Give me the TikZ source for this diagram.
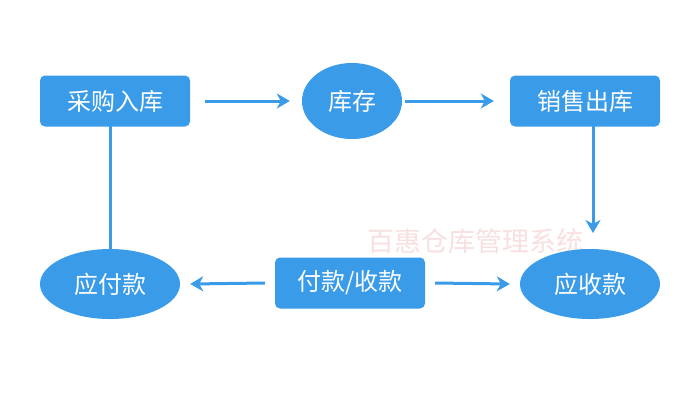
\documentclass[tikz,border=0pt]{standalone}
\usepackage{fontspec}
\setmainfont{Noto Sans CJK SC}
\usetikzlibrary{shapes.geometric,arrows.meta}
\definecolor{bl}{HTML}{3A9BE8}
\definecolor{wm}{HTML}{F8E0E0}
\begin{document}
\begin{tikzpicture}[x=1pt,y=-1pt,
  boxn/.style={fill=bl,rounded corners=5pt,minimum width=150pt,minimum height=51pt,text=white,font=\fontsize{24}{24}\selectfont,inner sep=0pt},
  elln/.style={ellipse,fill=bl,text=white,font=\fontsize{24}{24}\selectfont,inner sep=0pt},
  arr/.style={draw=bl,line width=3pt,-{Stealth[length=13pt,width=15pt,inset=4pt]}}]
\useasboundingbox (0,0) rectangle (700,400);
\fill[white] (0,0) rectangle (700,400);
\node[font=\fontsize{27}{27}\selectfont,text=wm] (wmk) at (475,241) {百惠仓库管理系统};
\node[boxn] (a) at (115,101) {采购入库};
\node[elln,minimum width=100pt,minimum height=76pt] (b) at (352,101) {库存};
\node[boxn] (c) at (585,101) {销售出库};
\node[elln,minimum width=140pt,minimum height=70pt] (d) at (110,284) {应付款};
\node[boxn] (e) at (350,283) {付款/收款};
\node[elln,minimum width=140pt,minimum height=70pt] (f) at (590,284) {应收款};
\draw[arr] ([xshift=15pt]a.east) -- ([xshift=-12pt]b.west);
\draw[arr] ([xshift=3pt]b.east) -- ([xshift=-16pt]c.west);
\draw[arr] ([yshift=15pt]a.south -| d.north) -- ([yshift=-17pt]d.north);
\draw[arr] ([yshift=15pt]c.south -| 593,0) -- (593,233);
\draw[arr] ([xshift=-10pt]e.west) -- ([xshift=10pt]d.east);
\draw[arr] ([xshift=10pt]e.east) -- ([xshift=-10pt]f.west);
\end{tikzpicture}
\end{document}
